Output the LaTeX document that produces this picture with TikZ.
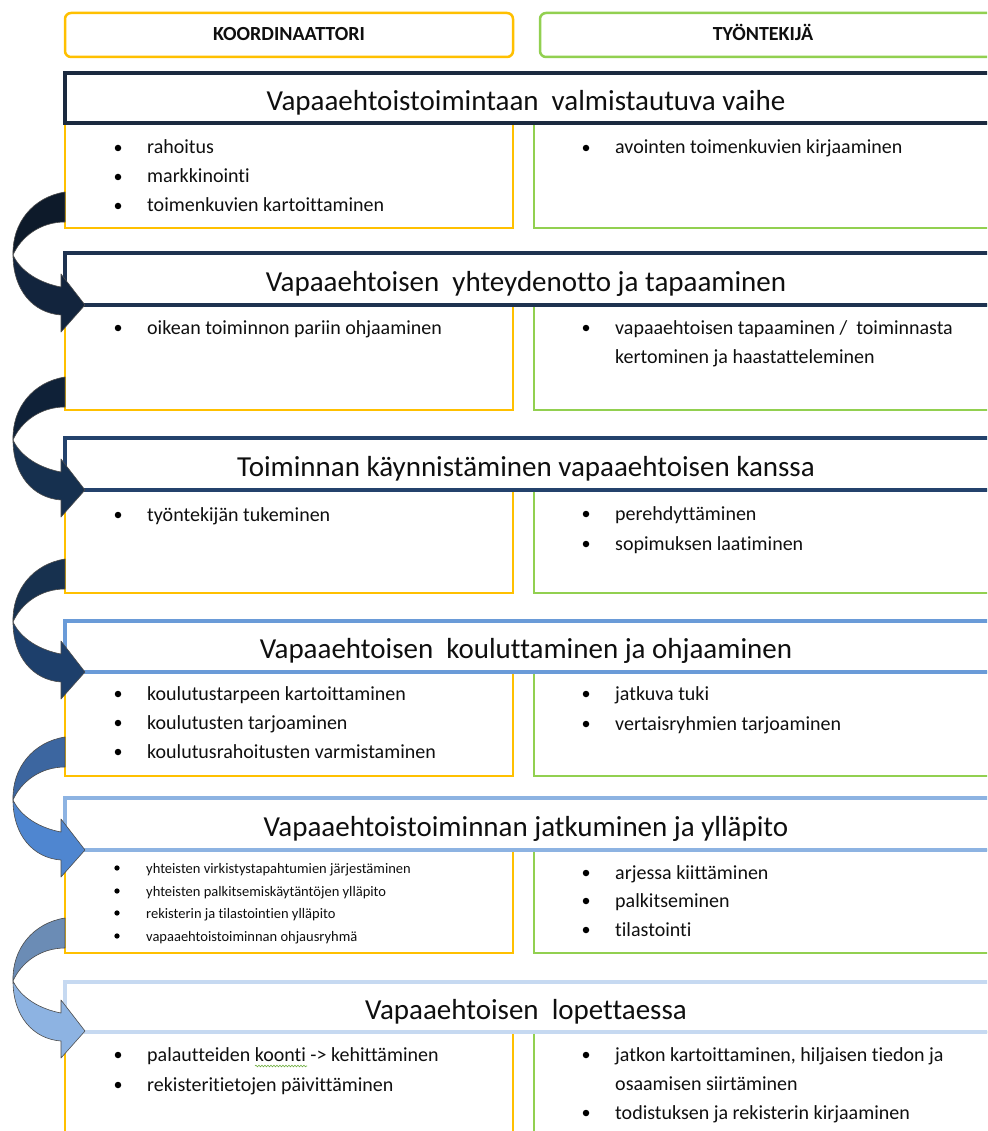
\documentclass[tikz,border=0pt]{standalone}
\usepackage{fontspec}
\setmainfont{Carlito}[Ligatures=NoCommon]
\usetikzlibrary{decorations.pathmorphing}

\definecolor{ylw}{HTML}{FFC000}
\definecolor{grn}{HTML}{92D050}
\definecolor{spell}{HTML}{6FAE3F}
\definecolor{txt}{HTML}{0F0F0F}
% title bar borders, dark to light
\definecolor{tbA}{HTML}{1B2A3F}
\definecolor{tbB}{HTML}{1E3250}
\definecolor{tbC}{HTML}{24426C}
\definecolor{tbD}{HTML}{6A9BD8}
\definecolor{tbE}{HTML}{8DB3E2}
\definecolor{tbF}{HTML}{C6D9F1}
% curved arrows: back face / front face
\definecolor{aAb}{HTML}{0D1A2A}\definecolor{aAf}{HTML}{12243D}
\definecolor{aBb}{HTML}{0F2138}\definecolor{aBf}{HTML}{16304F}
\definecolor{aCb}{HTML}{17314F}\definecolor{aCf}{HTML}{1D3F6B}
\definecolor{aDb}{HTML}{3C66A0}\definecolor{aDf}{HTML}{4F86D0}
\definecolor{aEb}{HTML}{6B8CB5}\definecolor{aEf}{HTML}{8DB3E2}

\tikzset{
  hdrbox/.style={line width=2.5pt, rounded corners=6pt, fill=white},
  colbox/.style={line width=2.5pt},
  ttlbox/.style={line width=3.2pt, fill=white},
  hdrtext/.style={inner sep=0pt, anchor=base, text=txt, font=\fontsize{20}{24}\selectfont\bfseries},
  ttltext/.style={inner sep=0pt, anchor=base, text=txt, font=\fontsize{29}{34}\selectfont},
  itm/.style={inner sep=0pt, anchor=base west, text=txt, font=\fontsize{20}{24}\selectfont},
  sitm/.style={inner sep=0pt, anchor=base west, text=txt, font=\fontsize{14.5}{18}\selectfont},
  dot/.style={circle, fill=black, inner sep=0pt, minimum size=6.5pt},
  sdot/.style={circle, fill=black, inner sep=0pt, minimum size=5.3pt},
  arrowline/.style={draw=black!70, line width=0.6pt, line join=round},
}

% bulleted line: name, text x, baseline y, text
\newcommand\bitem[4]{%
  \node[dot] (#1-b) at (#2-29,#3-6) {};
  \node[itm] (#1) at (#2,#3) {#4};}
\newcommand\sitem[4]{%
  \node[sdot] (#1-b) at (#2-29,#3-5) {};
  \node[sitm] (#1) at (#2,#3) {#4};}
% continuation line without bullet
\newcommand\citem[4]{\node[itm] (#1) at (#2,#3) {#4};}

% twisted curved arrow, drawn relative to its tip
\newcommand\curvedarrow[4]{%
  \begin{scope}[shift={(#1,#2)}]
    % back face
    \filldraw[arrowline, fill=#3]
      (-20,-113) .. controls (-52,-108) and (-73,-82) .. (-72,-50)
      .. controls (-64,-68) and (-45,-83) .. (-20,-83) -- cycle;
    % front face with head
    \filldraw[arrowline, fill=#4]
      (-72,-50) .. controls (-72,-15) and (-52,8) .. (-24,10)
      -- (-24,27) -- (0,0) -- (-24,-31) -- (-24,-18)
      .. controls (-45,-22) and (-64,-33) .. (-72,-50) -- cycle;
  \end{scope}}

\begin{document}
\begin{tikzpicture}[x=1pt, y=-1pt]
\useasboundingbox (0,0) rectangle (987,1131);
\clip (0,0) rectangle (987,1131);
\fill[white] (0,0) rectangle (987,1131);

% column headers
\draw[hdrbox, draw=ylw] (65,13) rectangle (513,57);
\draw[hdrbox, draw=grn] (540,13) rectangle (1000,57);
\node[hdrtext] (hk) at (289,41) {KOORDINAATTORI};
\node[hdrtext] (ht) at (763,41) {TYÖNTEKIJÄ};

% column boxes under each phase
\foreach \top/\bot in {123/228, 305/410, 490/593, 672/776, 850/953, 1032/1150} {
  \draw[colbox, draw=ylw] (65,\top) rectangle (513,\bot);
  \draw[colbox, draw=grn] (534,\top) rectangle (1000,\bot);
}

% phase title bars
\draw[ttlbox, draw=tbA] (65,73) rectangle (1000,123);
\draw[ttlbox, draw=tbB] (65,253) rectangle (1000,305);
\draw[ttlbox, draw=tbC] (65,438) rectangle (1000,490);
\draw[ttlbox, draw=tbD] (65,621) rectangle (1000,672);
\draw[ttlbox, draw=tbE] (65,798) rectangle (1000,850);
\draw[ttlbox, draw=tbF] (65,982) rectangle (1000,1032);

\node[ttltext] (t1) at (526,111) {Vapaaehtoistoimintaan\ \ valmistautuva vaihe};
\node[ttltext] (t2) at (526,291) {Vapaaehtoisen\ \ yhteydenotto ja tapaaminen};
\node[ttltext] (t3) at (526,476) {Toiminnan käynnistäminen vapaaehtoisen kanssa};
\node[ttltext] (t4) at (526,658) {Vapaaehtoisen\ \ kouluttaminen ja ohjaaminen};
\node[ttltext] (t5) at (526,836) {Vapaaehtoistoiminnan jatkuminen ja ylläpito};
\node[ttltext] (t6) at (526,1019) {Vapaaehtoisen\ \ lopettaessa};

% phase 1
\bitem{p1l1}{147}{154}{rahoitus}
\bitem{p1l2}{147}{183}{markkinointi}
\bitem{p1l3}{147}{212}{toimenkuvien kartoittaminen}
\bitem{p1r1}{615}{154}{avointen toimenkuvien kirjaaminen}

% phase 2
\bitem{p2l1}{147}{334}{oikean toiminnon pariin ohjaaminen}
\bitem{p2r1}{615}{334}{vapaaehtoisen tapaaminen /\ \ toiminnasta}
\citem{p2r2}{615}{363}{kertominen ja haastatteleminen}

% phase 3
\bitem{p3l1}{147}{521}{työntekijän tukeminen}
\bitem{p3r1}{615}{520}{perehdyttäminen}
\bitem{p3r2}{615}{550}{sopimuksen laatiminen}

% phase 4
\bitem{p4l1}{147}{700}{koulutustarpeen kartoittaminen}
\bitem{p4l2}{147}{729}{koulutusten tarjoaminen}
\bitem{p4l3}{147}{758}{koulutusrahoitusten varmistaminen}
\bitem{p4r1}{615}{700}{jatkuva tuki}
\bitem{p4r2}{615}{730}{vertaisryhmien tarjoaminen}

% phase 5
\sitem{p5l1}{146}{873}{yhteisten virkistystapahtumien järjestäminen}
\sitem{p5l2}{146}{896}{yhteisten palkitsemiskäytäntöjen ylläpito}
\sitem{p5l3}{146}{918}{rekisterin ja tilastointien ylläpito}
\sitem{p5l4}{146}{941}{vapaaehtoistoiminnan ohjausryhmä}
\bitem{p5r1}{615}{879}{arjessa kiittäminen}
\bitem{p5r2}{615}{907}{palkitseminen}
\bitem{p5r3}{615}{936}{tilastointi}

% phase 6
\bitem{p6l1}{147}{1061}{palautteiden koonti -> kehittäminen}
\bitem{p6l2}{147}{1091}{rekisteritietojen päivittäminen}
\bitem{p6r1}{615}{1061}{jatkon kartoittaminen, hiljaisen tiedon ja}
\citem{p6r2}{615}{1090}{osaamisen siirtäminen}
\bitem{p6r3}{615}{1119}{todistuksen ja rekisterin kirjaaminen}
\draw[spell, line width=0.6pt, decorate,
      decoration={snake, amplitude=0.8pt, segment length=3pt}]
  (255,1066) -- (307,1066);

% curved arrows between phases
\curvedarrow{85}{305}{aAb}{aAf}
\curvedarrow{85}{490}{aBb}{aBf}
\curvedarrow{85}{672}{aCb}{aCf}
\curvedarrow{85}{850}{aDb}{aDf}
\curvedarrow{85}{1031}{aEb}{aEf}
\end{tikzpicture}
\end{document}
